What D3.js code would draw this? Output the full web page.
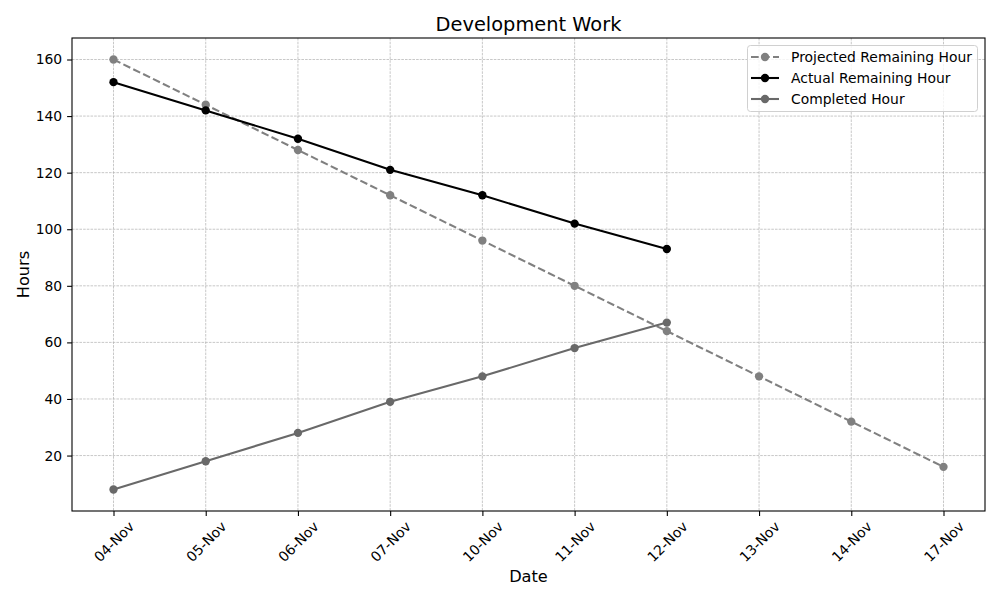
<!DOCTYPE html>
<html><head><meta charset="utf-8">
<script src="https://cdn.jsdelivr.net/npm/d3@7"></script>
<style>body{margin:0;background:#fff}text{font-family:"DejaVu Sans",sans-serif}</style>
</head><body>
<svg id="c" width="1000" height="600"></svg>
<script>
const dates = ["04-Nov","05-Nov","06-Nov","07-Nov","10-Nov","11-Nov","12-Nov","13-Nov","14-Nov","17-Nov"];
const projected = [160,144,128,112,96,80,64,48,32,16];
const actual = [152,142,132,121,112,102,93];
const completed = [8,18,28,39,48,58,67];
const yTicks = [20,40,60,80,100,120,140,160];
const seriesNames = ["Projected Remaining Hour","Actual Remaining Hour","Completed Hour"];

const svg = d3.select("#c");
const L=72, R=985, T=38, B=511;
// matplotlib margin: 5% of 9 steps = 0.45 step each side
const xs = d3.scaleLinear().domain([-0.45, dates.length-1+0.45]).range([L,R]);
const y = d3.scaleLinear().domain([0.4,167.6]).range([B,T]);
const gridDash = "2.6,1.1";

// grid
const g = svg.append("g");
g.selectAll(".vg").data(dates).enter().append("line")
 .attr("x1",(d,i)=>xs(i)).attr("x2",(d,i)=>xs(i)).attr("y1",T).attr("y2",B)
 .attr("stroke","#b0b0b0").attr("stroke-width",0.7).attr("stroke-dasharray",gridDash);
g.selectAll(".hg").data(yTicks).enter().append("line")
 .attr("x1",L).attr("x2",R).attr("y1",d=>y(d)).attr("y2",d=>y(d))
 .attr("stroke","#b0b0b0").attr("stroke-width",0.7).attr("stroke-dasharray",gridDash);

// axes
const xAxis = d3.axisBottom(xs).tickValues(d3.range(dates.length)).tickFormat(i=>dates[i]).tickSize(4.9).tickSizeOuter(0);
const xg = svg.append("g").attr("transform",`translate(0,${B})`).call(xAxis);
xg.select(".domain").remove();
xg.selectAll("line").attr("stroke","#000").attr("stroke-width",1.1);
xg.selectAll("text").attr("font-size","13.9px").attr("fill","#000")
 .attr("text-anchor","middle").attr("dy",null).attr("y",null)
 .attr("dominant-baseline","central")
 .attr("transform","translate(0,30.5) rotate(-45)");

const yAxis = d3.axisLeft(y).tickValues(yTicks).tickSize(4.9).tickSizeOuter(0).tickPadding(4.9);
const yg = svg.append("g").attr("transform",`translate(${L},0)`).call(yAxis);
yg.select(".domain").remove();
yg.selectAll("line").attr("stroke","#000").attr("stroke-width",1.1);
yg.selectAll("text").attr("font-size","13.9px").attr("fill","#000");

svg.append("rect").attr("x",L).attr("y",T).attr("width",R-L).attr("height",B-T)
 .attr("fill","none").attr("stroke","#000").attr("stroke-width",1.1);

// series
const line = d3.line().x((d,i)=>xs(i)).y(d=>y(d));
function drawSeries(data,color,dash){
  svg.append("path").datum(data).attr("d",line).attr("fill","none")
   .attr("stroke",color).attr("stroke-width",2.08).attr("stroke-dasharray",dash||null);
  svg.append("g").selectAll("circle").data(data).enter().append("circle")
   .attr("cx",(d,i)=>xs(i)).attr("cy",d=>y(d)).attr("r",4.17).attr("fill",color);
}
drawSeries(projected,"#808080","7.7,3.3");
drawSeries(actual,"#000000");
drawSeries(completed,"#696969");

// title & labels
svg.append("text").attr("x",(L+R)/2).attr("y",31).attr("text-anchor","middle")
 .attr("font-size","19.4px").text("Development Work");
svg.append("text").attr("x",(L+R)/2).attr("y",582).attr("text-anchor","middle")
 .attr("font-size","16.2px").text("Date");
svg.append("text").attr("transform",`translate(29,${(T+B)/2}) rotate(-90)`).attr("text-anchor","middle")
 .attr("font-size","16.2px").text("Hours");

// legend
const lg = svg.append("g");
lg.append("rect").attr("x",747.5).attr("y",45.5).attr("width",230).attr("height",66).attr("rx",3)
 .attr("fill","#fff").attr("fill-opacity",0.8).attr("stroke","#d0d0d0");
const colors=["#808080","#000000","#696969"], dashes=["7.7,3.3",null,null];
seriesNames.forEach((n,i)=>{
  const yy = 57 + i*21;
  lg.append("line").attr("x1",751).attr("x2",779).attr("y1",yy).attr("y2",yy)
   .attr("stroke",colors[i]).attr("stroke-width",2.08).attr("stroke-dasharray",dashes[i]);
  lg.append("circle").attr("cx",765).attr("cy",yy).attr("r",4.17).attr("fill",colors[i]);
  lg.append("text").attr("x",791).attr("y",yy).attr("dominant-baseline","central")
   .attr("font-size","13.9px").text(n);
});
</script>
</body></html>
